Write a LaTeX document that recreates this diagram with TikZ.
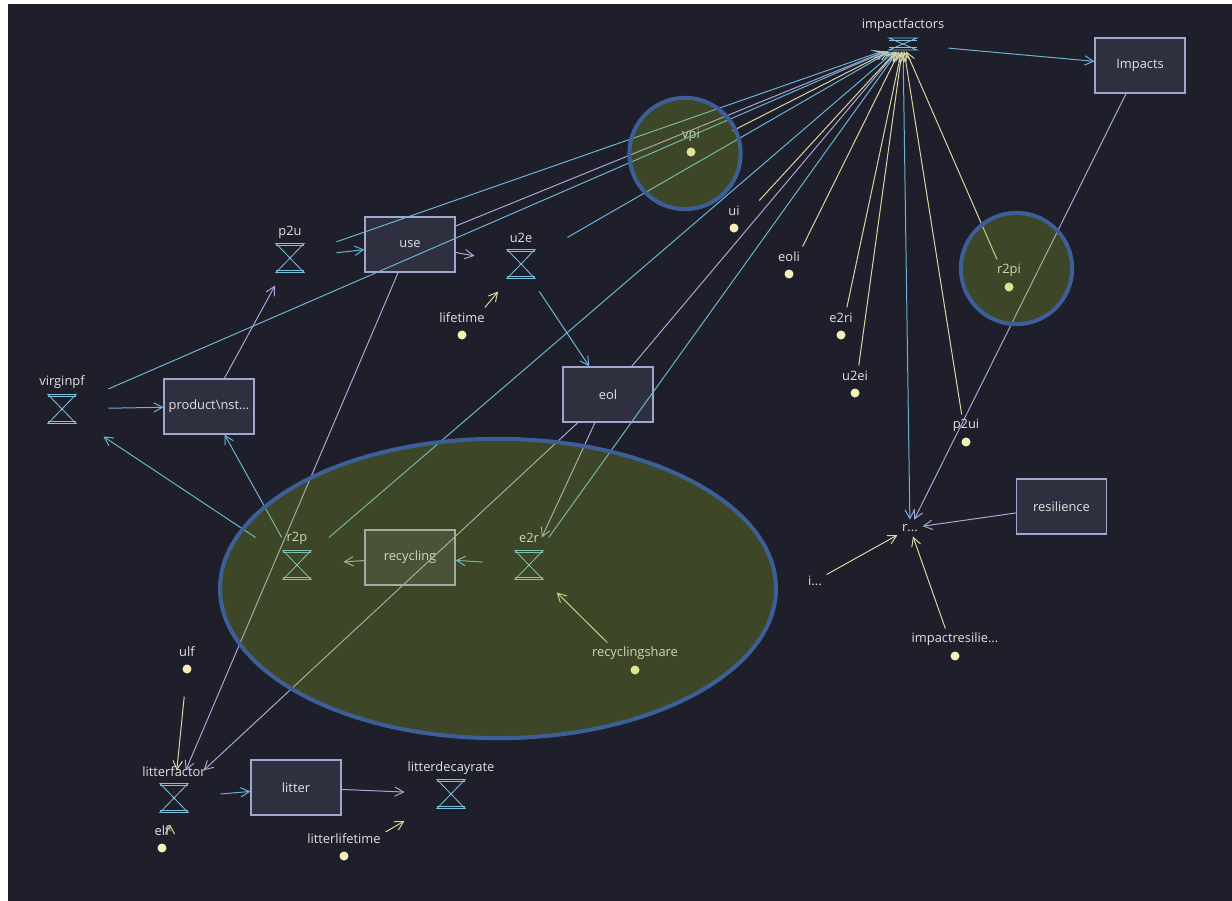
\documentclass[tikz,border=0pt]{standalone}
\usepackage{fontspec}
\setmainfont{Open Sans}
\usetikzlibrary{arrows.meta}

\definecolor{bgc}{HTML}{1E1F2A}
\definecolor{boxfill}{HTML}{2F303F}
\definecolor{boxline}{HTML}{A3A7CF}
\definecolor{txt}{HTML}{E2E2E2}
\definecolor{bluec}{HTML}{6DB3D3}
\definecolor{lavc}{HTML}{A9A5D8}
\definecolor{yelc}{HTML}{D8D6A2}
\definecolor{dotc}{HTML}{F6F0B4}
\definecolor{valvec}{HTML}{7DC3DF}
\definecolor{ringc}{HTML}{3B5F96}
\definecolor{olivec}{HTML}{9ABF22}

% hourglass drawn inside a valve node: half width, half height
\newcommand{\hglass}[2]{%
  \draw[valvec,line width=0.7pt] ([shift={(-#1,#2)}]path picture bounding box.center)
    -- ([shift={(#1,#2)}]path picture bounding box.center)
    -- ([shift={(-#1,-#2)}]path picture bounding box.center)
    -- ([shift={(#1,-#2)}]path picture bounding box.center) -- cycle;
  \draw[valvec,line width=0.7pt] ([shift={(-#1,#2-0.7mm)}]path picture bounding box.center)
    -- ([shift={(#1,#2-0.7mm)}]path picture bounding box.center);
  \draw[valvec,line width=0.7pt] ([shift={(-#1,-#2+0.7mm)}]path picture bounding box.center)
    -- ([shift={(#1,-#2+0.7mm)}]path picture bounding box.center);
}

\tikzset{
  lbl/.style={text=txt, font=\fontsize{11}{13}\selectfont, inner sep=0pt},
  stock/.style={draw=boxline, fill=boxfill, line width=1pt, text=txt,
    font=\fontsize{11}{13}\selectfont, minimum width=27mm, minimum height=16.5mm},
  valve/.style={rectangle, minimum width=27.6mm, minimum height=16.2mm, inner sep=0pt,
    path picture={\hglass{4.2mm}{4.35mm}}},
  topvalve/.style={rectangle, minimum width=27mm, minimum height=4.2mm, inner sep=0pt,
    path picture={\hglass{4.2mm}{1.8mm}}},
  var/.style={rectangle, minimum width=24.6mm, minimum height=16.2mm, inner sep=0pt,
    path picture={\fill[dotc] (path picture bounding box.center) circle (1.35mm);}},
  trunc/.style={text=txt, font=\fontsize{11}{13}\selectfont, inner sep=1.3mm},
  flink/.style={draw=bluec},
  slink/.style={draw=lavc},
  vlink/.style={draw=yelc},
  hilite/.style={draw=ringc, line width=1.2mm, fill=olivec, fill opacity=0.25},
}

\begin{document}
\begin{tikzpicture}[x=0.3mm, y=-0.3mm, line width=0.85pt,
                    >={Straight Barb[length=2.6mm,width=2.8mm]}]
                    \useasboundingbox[fill=white] (0,0) rectangle (1232,901);
                    \fill[bgc] (8,4) rectangle (1232,901);

                    % stocks
                    \node[stock] (use) at (410,244.5) {use};
                    \node[stock] (product) at (209,406.5) {product\textbackslash{}nst...};
                    \node[stock] (eol) at (608,394.5) {eol};
                    \node[stock] (Impacts) at (1140,65.5) {Impacts};
                    \node[stock] (resilience) at (1061.5,506.5) {resilience};
                    \node[stock] (recycling) at (410,557.5) {recycling};
                    \node[stock] (litter) at (296,787.5) {litter};

                    % flows
                    \node[topvalve, label={[lbl,yshift=5.7mm]center:impactfactors}] (impactfactors) at (903,44) {};
                    \node[valve, label={[lbl,yshift=7.8mm]center:p2u}] (p2u) at (290,258) {};
                    \node[valve, label={[lbl,yshift=7.8mm]center:u2e}] (u2e) at (521,264) {};
                    \node[valve, label={[lbl,yshift=8.1mm]center:virginpf}] (virginpf) at (62,409) {};
                    \node[valve, label={[lbl,yshift=8.1mm]center:r2p}] (r2p) at (297,565) {};
                    \node[valve, label={[lbl,yshift=8.1mm]center:e2r}] (e2r) at (529,565) {};
                    \node[valve, label={[lbl,yshift=7.8mm]center:litterfactor}] (litterfactor) at (174,798) {};
                    \node[valve, label={[lbl,yshift=7.8mm]center:litterdecayrate}] (litterdecayrate) at (451,794) {};

                    % variables
                    \node[var, label={[lbl,yshift=5.1mm]center:vpi}] (vpi) at (691,152) {};
                    \node[var, label={[lbl,yshift=5.1mm]center:ui}] (ui) at (734,228) {};
                    \node[var, label={[lbl,yshift=5.1mm]center:eoli}] (eoli) at (789,274) {};
                    \node[var, label={[lbl,yshift=5.1mm]center:r2pi}] (r2pi) at (1009,287) {};
                    \node[var, label={[lbl,yshift=5.1mm]center:e2ri}] (e2ri) at (841,335) {};
                    \node[var, label={[lbl,yshift=5.1mm]center:u2ei}] (u2ei) at (855,393) {};
                    \node[var, label={[lbl,yshift=5.1mm]center:p2ui}] (p2ui) at (966,442) {};
                    \node[var, label={[lbl,yshift=5.1mm]center:lifetime}] (lifetime) at (462,335) {};
                    \node[var, label={[lbl,yshift=5.1mm]center:impactresilie...}] (impactresilie) at (955,656) {};
                    \node[var, label={[lbl,yshift=5.1mm]center:recyclingshare}] (recyclingshare) at (635,670) {};
                    \node[var, label={[lbl,yshift=5.1mm]center:ulf}] (ulf) at (187,669) {};
                    \node[var, label={[lbl,yshift=5.1mm]center:elf}] (elf) at (162,848) {};
                    \node[var, label={[lbl,yshift=5.1mm]center:litterlifetime}] (litterlifetime) at (344,856) {};
                    \node[trunc] (rtrunc) at (910,528) {r...};
                    \node[trunc] (itrunc) at (815,581) {i...};

                    % links from flows
                    \draw[flink,<-] (product) -- (virginpf);
                    \draw[flink,<-] (use) -- (p2u);
                    \draw[flink,<-] (eol) -- (u2e);
                    \draw[flink,<-] (product) -- (r2p);
                    \draw[flink,<-] (virginpf) -- (r2p);
                    \draw[flink,<-] (recycling) -- (e2r);
                    \draw[flink,<-] (litter) -- (litterfactor);
                    \draw[flink,<-] (Impacts) -- (impactfactors);
                    \draw[flink,<-] (rtrunc) -- (impactfactors);
                    \draw[flink,<-] (impactfactors) -- (virginpf);
                    \draw[flink,<-] (impactfactors) -- (p2u);
                    \draw[flink,<-] (impactfactors) -- (u2e);
                    \draw[flink,<-] (impactfactors) -- (r2p);
                    \draw[flink,<-] (impactfactors) -- (e2r);

                    % links from stocks
                    \draw[slink,<-] (p2u) -- (product);
                    \draw[slink,<-] (u2e) -- (use);
                    \draw[slink,<-] (e2r) -- (eol);
                    \draw[slink,<-] (r2p) -- (recycling);
                    \draw[slink,<-] (litterfactor) -- (use);
                    \draw[slink,<-] (litterfactor) -- (eol);
                    \draw[slink,<-] (litterdecayrate) -- (litter);
                    \draw[slink,<-] (impactfactors) -- (use);
                    \draw[slink,<-] (impactfactors) -- (eol);
                    \draw[slink,<-] (rtrunc) -- (Impacts);
                    \draw[slink,<-] (rtrunc) -- (resilience);

                    % links from variables
                    \draw[vlink,<-] (impactfactors) -- (vpi);
                    \draw[vlink,<-] (impactfactors) -- (ui);
                    \draw[vlink,<-] (impactfactors) -- (eoli);
                    \draw[vlink,<-] (impactfactors) -- (e2ri);
                    \draw[vlink,<-] (impactfactors) -- (u2ei);
                    \draw[vlink,<-] (impactfactors) -- (p2ui);
                    \draw[vlink,<-] (impactfactors) -- (r2pi);
                    \draw[vlink,<-] (u2e) -- (lifetime);
                    \draw[vlink,<-] (e2r) -- (recyclingshare);
                    \draw[vlink,<-] (litterfactor) -- (ulf);
                    \draw[vlink,<-] (litterdecayrate) -- (litterlifetime);
                    \draw[vlink,<-] (rtrunc) -- (itrunc);
                    \draw[vlink,<-] (rtrunc) -- (impactresilie);
                    \draw[vlink,<-] ([xshift=-1.2mm,yshift=0.3mm]litterfactor.south) -- ([xshift=2.4mm,yshift=-3.3mm]elf.north);

                    % highlights
                    \draw[hilite] (498,588.5) ellipse [x radius=83.4mm, y radius=44.9mm];
                    \draw[hilite] (685,153.5) circle [radius=16.7mm];
                    \draw[hilite] (1016.5,268.5) circle [radius=16.7mm];
                 \end{tikzpicture}
\end{document}
